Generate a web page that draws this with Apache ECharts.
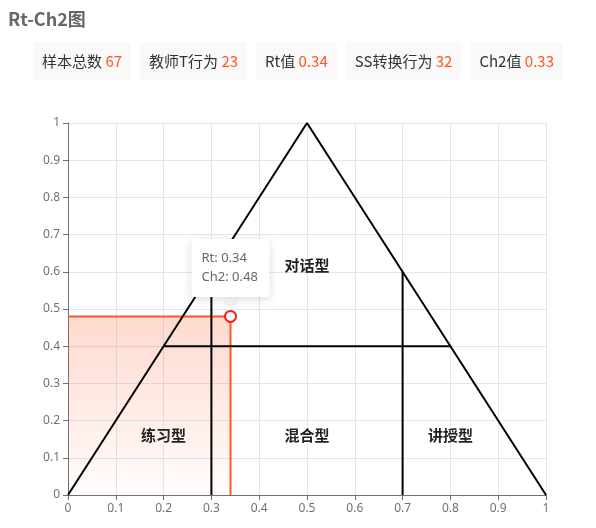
<!DOCTYPE html>
<html>
<head>
<meta charset="utf-8">
<script src="https://cdn.jsdelivr.net/npm/echarts@6/dist/echarts.min.js"></script>
<style>
  html, body { margin: 0; padding: 0; background: #fff; width: 596px; height: 528px; overflow: hidden;
    font-family: "Noto Sans CJK SC", "Noto Sans", sans-serif; }
  #title { position: absolute; left: 8px; top: 5px; font-size: 18px; font-weight: bold; color: #666; z-index: 2; }
  #stats { position: absolute; left: 0; top: 42px; width: 596px; display: flex; justify-content: center; gap: 9px; z-index: 2; }
  .box { background: #f9f9f9; border-radius: 4px; padding: 0 9px; height: 38px; line-height: 38px; font-size: 15px; color: #333; white-space: nowrap; }
  .box .v { color: #FF5722; }
  #chart { position: absolute; left: 0; top: 0; width: 596px; height: 528px; z-index: 1; }
</style>
</head>
<body>
<div id="title">Rt-Ch2图</div>
<div id="stats"></div>
<div id="chart"></div>
<script>
// ---- data ----
const statNames = ['样本总数', '教师T行为', 'Rt值', 'SS转换行为', 'Ch2值'];
const statValues = ['67', '23', '0.34', '32', '0.33'];

const triangle = [[0, 0], [0.5, 1], [1, 0]];
const hLine = [[0.2, 0.4], [0.8, 0.4]];
const vLineLeft = [[0.3, 0], [0.3, 0.6]];
const vLineRight = [[0.7, 0], [0.7, 0.6]];
const regionLabels = [
  [0.2, 0.16, '练习型'],
  [0.5, 0.16, '混合型'],
  [0.8, 0.16, '讲授型'],
  [0.5, 0.618, '对话型']
];
const rt = 0.34;
const ch2 = 0.48;
const axisTicks = [0, 0.1, 0.2, 0.3, 0.4, 0.5, 0.6, 0.7, 0.8, 0.9, 1];

// ---- stats row ----
const stats = document.getElementById('stats');
statNames.forEach((n, i) => {
  const d = document.createElement('div');
  d.className = 'box';
  d.innerHTML = n + ' <span class="v">' + statValues[i] + '</span>';
  stats.appendChild(d);
});

// ---- chart ----
const chart = echarts.init(document.getElementById('chart'), null, { renderer: 'canvas' });
const blackLine = (data) => ({
  type: 'line', data: data, symbol: 'none', silent: true,
  lineStyle: { color: '#000', width: 2 }, itemStyle: { color: '#000' }, z: 3
});
const axisCommon = {
  type: 'value', min: axisTicks[0], max: axisTicks[axisTicks.length - 1], interval: axisTicks[1] - axisTicks[0],
  axisLine: { show: true, lineStyle: { color: '#6E7079' } },
  axisTick: { show: true, lineStyle: { color: '#6E7079' } },
  axisLabel: { color: '#6E7079', fontSize: 12, fontFamily: 'Noto Sans, sans-serif' },
  splitLine: { show: true, lineStyle: { color: '#E0E6F1' } }
};
chart.setOption({
  animation: false,
  grid: { left: 68, right: 50, top: 123, bottom: 33, containLabel: false },
  xAxis: Object.assign({}, axisCommon),
  yAxis: Object.assign({}, axisCommon),
  series: [
    {
      type: 'line', data: [[0, ch2], [rt, ch2], [rt, 0]], symbol: 'none', silent: true,
      lineStyle: { color: '#FF5722', width: 2 },
      areaStyle: {
        origin: 'start',
        color: new echarts.graphic.LinearGradient(0, 0, 0, 1, [
          { offset: 0, color: 'rgba(255,87,34,0.32)' },
          { offset: 1, color: 'rgba(255,87,34,0.02)' }
        ])
      },
      z: 2
    },
    blackLine(triangle),
    blackLine(hLine),
    blackLine(vLineLeft),
    blackLine(vLineRight),
    {
      type: 'scatter', data: regionLabels, symbolSize: 0, silent: true,
      itemStyle: { color: '#222', opacity: 1 },
      label: { show: true, position: 'inside', formatter: (p) => p.data[2], opacity: 1,
        color: '#222', fontSize: 15, fontWeight: 'bold', fontFamily: 'Noto Sans CJK SC',
        textBorderWidth: 0, textBorderColor: 'transparent' },
      z: 4
    },
    {
      type: 'scatter', data: [[rt, ch2]], symbol: 'triangle', symbolRotate: 180,
      symbolSize: [14, 8], symbolOffset: [0, -14], silent: true, zlevel: 1,
      itemStyle: { color: '#fff', shadowColor: 'rgba(0,0,0,0.18)', shadowBlur: 4, shadowOffsetY: 1 }, z: 1
    },
    {
      type: 'scatter', data: [[rt, ch2]], symbol: 'emptyCircle', symbolSize: 11, silent: true, zlevel: 1,
      itemStyle: { color: '#ff1a1a', borderColor: '#ff1a1a', borderWidth: 2, opacity: 1 },
      label: {
        show: true, position: 'top', distance: 13,
        formatter: (p) => '{a|Rt: ' + p.data[0] + '}\n{a|Ch2: ' + p.data[1] + '}',
        backgroundColor: '#fff', borderRadius: 4, padding: [10, 10, 10, 10],
        align: 'center', opacity: 1,
        shadowColor: 'rgba(0,0,0,0.15)', shadowBlur: 10, shadowOffsetY: 2,
        rich: {
          a: { color: '#666', fontSize: 13, lineHeight: 19, width: 58, align: 'left',
               fontFamily: 'Noto Sans, sans-serif' }
        }
      },
      z: 2
    }
  ]
});
</script>
</body>
</html>
